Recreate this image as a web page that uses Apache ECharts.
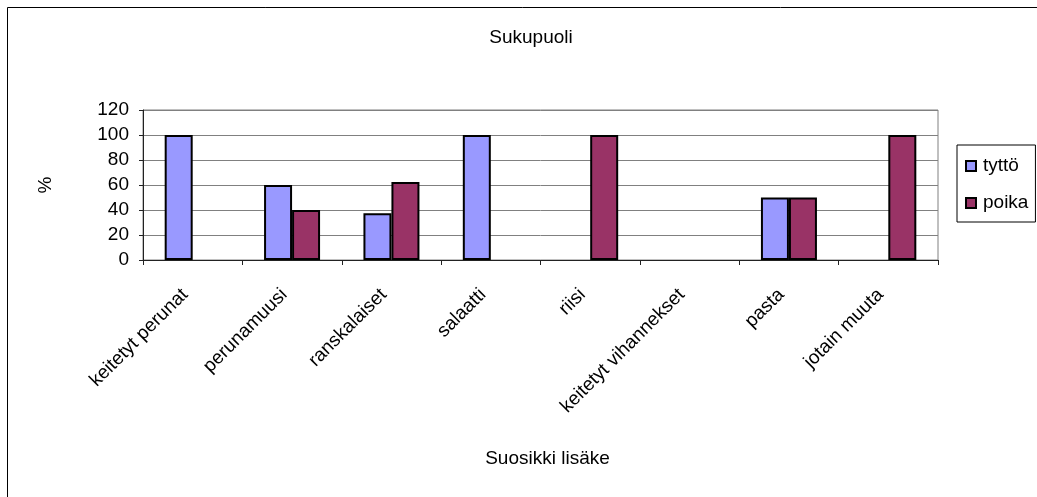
<!DOCTYPE html>
<html>
<head>
<meta charset="utf-8">
<script src="https://cdn.jsdelivr.net/npm/echarts@6/dist/echarts.min.js"></script>
<style>
  html, body { margin: 0; padding: 0; background: #fff; }
  #chart { width: 1037px; height: 497px; }
</style>
</head>
<body>
<div id="chart"></div>
<script>
// Favourite side dish by gender (%)
const categories = [
  'keitetyt perunat', 'perunamuusi', 'ranskalaiset', 'salaatti',
  'riisi', 'keitetyt vihannekset', 'pasta', 'jotain muuta'
];
const tyttoValues = [100, 60, 37.5, 100, 0, 0, 50, 0];
const poikaValues = [0, 40, 62.5, 0, 100, 0, 50, 100];
const yTicks = { min: 0, max: 120, interval: 20 };

const FONT = 'Liberation Sans, Arial, sans-serif';

// zero-height bars get no outline so they stay invisible on the axis
function barData(values) {
  return values.map(v => (v === 0 ? { value: v, itemStyle: { borderWidth: 0 } } : v));
}

const chart = echarts.init(document.getElementById('chart'), null, { renderer: 'canvas' });

chart.setOption({
  animation: false,
  backgroundColor: '#ffffff',
  textStyle: { fontFamily: FONT, color: '#000' },
  title: {
    text: 'Sukupuoli',
    left: 526,
    top: 23,
    textAlign: 'center',
    textStyle: { fontFamily: FONT, fontSize: 19, fontWeight: 'normal', color: '#000' }
  },
  graphic: [{
    type: 'rect',
    silent: true,
    z: -1,
    shape: { x: 7.5, y: 7.5, width: 1100, height: 600 },
    style: { fill: 'none', stroke: '#000', lineWidth: 1 }
  }],
  legend: {
    orient: 'vertical',
    left: 957,
    top: 145,
    padding: [11, 7, 9, 8],
    itemGap: 17,
    itemWidth: 10,
    itemHeight: 10,
    icon: 'rect',
    borderColor: '#000',
    borderWidth: 1,
    textStyle: { fontFamily: FONT, fontSize: 19, color: '#000', lineHeight: 20, padding: [0, 0, 0, 2] },
    data: ['tyttö', 'poika']
  },
  grid: {
    left: 143,
    right: 99,
    top: 110,
    bottom: 237,
    show: true,
    borderColor: '#808080',
    borderWidth: 1,
    containLabel: false
  },
  xAxis: {
    type: 'category',
    data: categories,
    name: 'Suosikki lisäke',
    nameLocation: 'middle',
    nameGap: 189,
    nameTextStyle: { fontFamily: FONT, fontSize: 19, color: '#000', padding: [0, 0, 0, 14] },
    axisLine: { lineStyle: { color: '#222', width: 1 } },
    axisTick: { show: true, alignWithLabel: false, length: 5, lineStyle: { color: '#222' } },
    axisLabel: {
      rotate: 45,
      interval: 0,
      margin: 24,
      padding: [0, 11, 0, 0],
      fontFamily: FONT,
      fontSize: 19,
      color: '#000'
    },
    splitLine: { show: false }
  },
  yAxis: {
    type: 'value',
    min: yTicks.min,
    max: yTicks.max,
    interval: yTicks.interval,
    name: '%',
    nameLocation: 'middle',
    nameRotate: 90,
    nameGap: 88,
    nameTextStyle: { fontFamily: FONT, fontSize: 19, color: '#000' },
    axisLine: { show: true, lineStyle: { color: '#222', width: 1 } },
    axisTick: { show: true, length: 4, lineStyle: { color: '#222' } },
    axisLabel: { margin: 14, fontFamily: FONT, fontSize: 19, color: '#000' },
    splitLine: { show: true, lineStyle: { color: '#808080', width: 1 } }
  },
  series: [
    {
      name: 'tyttö',
      type: 'bar',
      data: barData(tyttoValues),
      barWidth: 28,
      barGap: '0%',
      itemStyle: { color: '#9999FF', borderColor: '#000', borderWidth: 2 }
    },
    {
      name: 'poika',
      type: 'bar',
      data: barData(poikaValues),
      barWidth: 28,
      barGap: '0%',
      itemStyle: { color: '#993366', borderColor: '#000', borderWidth: 2 }
    }
  ]
});
</script>
</body>
</html>
